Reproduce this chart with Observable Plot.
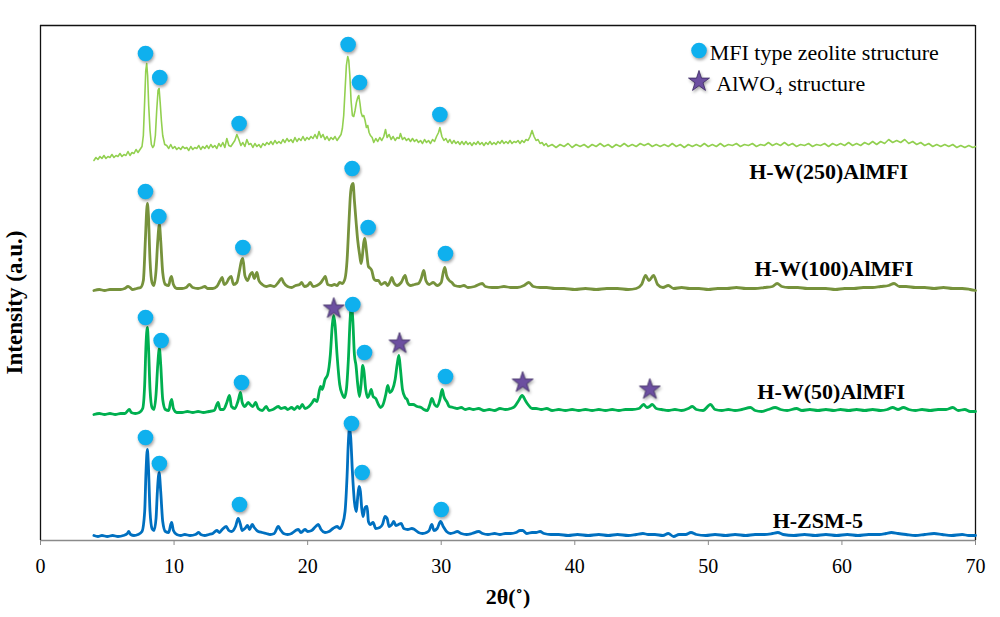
<!DOCTYPE html>
<html>
<head>
<meta charset="utf-8">
<script src="https://cdn.jsdelivr.net/npm/d3@7"></script>
<script src="https://cdn.jsdelivr.net/npm/@observablehq/plot@0.6"></script>
<style>
  html, body { margin: 0; padding: 0; background: #fff; }
  #chart { width: 1000px; height: 617px; }
  #chart svg, #chart svg text { font-family: "Liberation Serif", "Times New Roman", serif !important; }
</style>
</head>
<body>
<div id="chart"></div>
<script>
// ---- Data (2θ in degrees, intensity in a.u. above each pattern's own baseline) ----
const seriesNames = ["H-ZSM-5", "H-W(50)AlMFI", "H-W(100)AlMFI", "H-W(250)AlMFI"];
const seriesColors = ["#0070c0", "#00b050", "#76923c", "#92d050"];
const seriesOffsets = [4, 126, 250, 380];
const xTicks = [0, 10, 20, 30, 40, 50, 60, 70];

const zsm5 = [[4.0,1],[4.3,0],[4.6,1],[5.0,0],[5.4,1],[5.8,0],[6.2,1],[6.5,3],[6.6,5],[6.75,2],[7.0,1],[7.3,2],[7.6,5],[7.8,25],[7.9,65],[8.0,87],[8.08,70],[8.2,25],[8.35,8],[8.5,6],[8.65,18],[8.75,45],[8.88,64],[9.0,45],[9.15,15],[9.35,5],[9.6,4],[9.75,12],[9.82,14],[9.95,6],[10.2,2],[10.5,1],[10.8,2],[11.2,1],[11.6,2],[11.85,4],[12.0,2],[12.3,1],[12.6,2],[12.9,3],[13.2,6],[13.4,4],[13.6,7],[13.9,10],[14.1,6],[14.3,5],[14.6,10],[14.8,18],[14.95,13],[15.1,6],[15.3,8],[15.5,11],[15.65,7],[15.85,12],[16.0,9],[16.3,5],[16.6,4],[16.9,3],[17.2,2],[17.5,3],[17.8,10],[17.95,7],[18.2,3],[18.5,2],[18.8,3],[19.1,6],[19.3,7],[19.5,4],[19.8,7],[20.0,5],[20.3,6],[20.6,10],[20.8,12],[21.0,7],[21.3,4],[21.6,5],[21.9,8],[22.2,10],[22.4,8],[22.6,12],[22.8,25],[22.95,60],[23.05,95],[23.13,108],[23.22,100],[23.35,65],[23.5,35],[23.65,25],[23.75,40],[23.85,50],[23.95,45],[24.05,28],[24.15,20],[24.3,29],[24.45,30],[24.55,15],[24.7,12],[24.9,14],[25.1,8],[25.4,9],[25.6,12],[25.8,20],[25.95,18],[26.1,10],[26.3,12],[26.45,15],[26.6,11],[26.8,12],[27.0,13],[27.2,8],[27.5,7],[27.8,8],[28.0,7],[28.3,4],[28.6,3],[28.9,4],[29.1,6],[29.3,12],[29.45,6],[29.7,8],[29.95,15],[30.15,10],[30.4,5],[30.7,3],[31.0,4],[31.2,5],[31.5,3],[31.9,2],[32.3,3],[32.8,5],[33.1,3],[33.5,2],[34.0,3],[34.4,2],[34.8,3],[35.2,3],[35.6,4],[35.9,6],[36.1,6],[36.4,3],[36.8,4],[37.1,4],[37.4,5],[37.7,3],[38.2,2],[38.8,2],[39.5,1],[40.2,2],[41.0,1],[41.8,2],[42.5,1],[43.2,2],[44.0,1],[44.6,2],[45.1,3],[45.5,2],[46.0,2],[46.6,1],[47.0,3],[47.4,0],[47.8,2],[48.3,2],[48.7,4],[49.1,2],[49.8,1],[50.5,2],[51.3,1],[52.0,2],[52.8,1],[53.5,2],[54.2,2],[54.8,3],[55.2,4],[55.6,2],[56.4,1],[57.2,2],[58.0,1],[58.8,2],[59.6,1],[60.4,2],[61.2,1],[62.0,2],[62.8,2],[63.3,3],[63.7,4],[64.2,3],[64.8,2],[65.5,1],[66.2,2],[66.9,3],[67.5,2],[68.2,1],[69.0,2],[69.5,1],[70,1]];

const w50 = [[4.0,0],[4.4,1],[4.8,0],[5.2,1],[5.6,0],[6.0,1],[6.3,1],[6.55,4],[6.65,5],[6.8,2],[7.1,1],[7.4,2],[7.65,6],[7.8,30],[7.9,70],[8.0,87],[8.08,70],[8.2,25],[8.35,7],[8.5,5],[8.65,20],[8.78,50],[8.9,66],[9.0,50],[9.15,15],[9.35,5],[9.6,4],[9.75,13],[9.82,15],[9.95,6],[10.2,2],[10.6,2],[11.0,3],[11.4,2],[11.8,3],[12.2,2],[12.6,3],[13.0,4],[13.3,12],[13.45,5],[13.7,5],[13.95,12],[14.15,19],[14.3,8],[14.55,6],[14.8,14],[14.97,22],[15.1,12],[15.3,8],[15.55,12],[15.7,10],[15.9,8],[16.1,12],[16.3,6],[16.6,4],[16.9,8],[17.1,4],[17.4,5],[17.8,8],[18.0,6],[18.3,7],[18.5,5],[18.8,7],[19.0,5],[19.25,8],[19.4,6],[19.6,10],[19.8,6],[20.1,8],[20.35,12],[20.5,15],[20.7,13],[20.96,28],[21.1,25],[21.3,35],[21.5,40],[21.7,60],[21.85,90],[21.95,99],[22.05,90],[22.2,60],[22.4,30],[22.6,20],[22.75,17],[22.9,25],[23.05,55],[23.18,95],[23.28,109],[23.38,95],[23.5,60],[23.62,49],[23.75,30],[23.88,18],[24.0,30],[24.12,49],[24.2,45],[24.35,25],[24.5,17],[24.62,20],[24.76,25],[24.9,18],[25.1,16],[25.3,10],[25.45,7],[25.65,10],[25.85,20],[26.0,29],[26.15,22],[26.35,25],[26.55,35],[26.7,50],[26.83,59],[26.95,45],[27.1,25],[27.3,17],[27.45,15],[27.6,10],[27.9,10],[28.2,8],[28.5,7],[28.7,5],[28.95,4],[29.15,10],[29.3,16],[29.5,10],[29.7,8],[29.9,15],[30.07,25],[30.2,18],[30.45,12],[30.6,8],[30.9,7],[31.2,6],[31.5,7],[31.8,5],[32.1,6],[32.4,5],[32.8,6],[33.2,4],[33.6,5],[34.0,4],[34.4,6],[34.8,5],[35.2,6],[35.5,8],[35.8,14],[36.06,19],[36.3,14],[36.5,10],[36.8,6],[37.1,6],[37.5,5],[37.9,6],[38.3,4],[38.8,5],[39.3,4],[39.8,5],[40.3,4],[40.8,5],[41.3,4],[41.8,5],[42.3,4],[42.8,5],[43.3,4],[43.8,5],[44.3,5],[44.8,6],[45.15,10],[45.4,7],[45.6,8],[45.8,10],[46.1,6],[46.5,5],[47.0,4],[47.5,5],[48.0,4],[48.5,6],[48.8,8],[49.1,5],[49.6,4],[50.16,10],[50.5,5],[51.0,4],[51.5,5],[52.0,4],[52.5,5],[53.15,7],[53.5,4],[54.0,3],[54.5,5],[55.0,7],[55.4,5],[55.9,4],[56.6,6],[57.0,4],[57.6,5],[58.2,4],[58.8,5],[59.4,4],[59.9,5],[60.5,4],[61.1,5],[61.7,4],[62.3,5],[62.9,4],[63.4,5],[63.8,7],[64.2,5],[64.6,7],[65.0,5],[65.5,4],[66.0,5],[66.6,4],[67.2,5],[67.8,5],[68.3,7],[68.7,4],[69.2,5],[69.6,3],[70,3]];

const w100 = [[4.0,0],[4.4,1],[4.8,0],[5.2,1],[5.6,1],[6.0,1],[6.3,2],[6.55,4],[6.7,3],[6.9,1],[7.2,2],[7.5,3],[7.7,10],[7.85,50],[7.95,80],[8.0,87],[8.08,75],[8.2,30],[8.35,8],[8.5,5],[8.65,20],[8.78,50],[8.9,66],[9.0,50],[9.15,18],[9.35,6],[9.6,5],[9.72,12],[9.8,14],[9.95,6],[10.2,2],[10.6,2],[10.9,3],[11.15,6],[11.4,3],[11.8,2],[12.1,3],[12.3,4],[12.5,2],[12.9,2],[13.2,4],[13.45,10],[13.6,13],[13.75,6],[13.95,8],[14.1,12],[14.27,14],[14.45,6],[14.7,8],[14.9,20],[15.05,30],[15.15,32],[15.3,15],[15.5,10],[15.7,16],[15.85,18],[16.0,12],[16.2,18],[16.35,10],[16.6,6],[16.9,4],[17.2,5],[17.5,4],[17.8,8],[18.05,12],[18.2,8],[18.5,4],[18.8,3],[19.1,5],[19.4,6],[19.55,8],[19.75,4],[20.0,5],[20.2,8],[20.4,4],[20.7,5],[21.0,8],[21.2,12],[21.32,14],[21.5,6],[21.8,5],[22.0,6],[22.2,5],[22.4,8],[22.6,7],[22.8,12],[22.95,30],[23.1,70],[23.2,95],[23.3,105],[23.4,107],[23.5,90],[23.62,70],[23.75,50],[23.9,35],[24.0,27],[24.1,35],[24.2,48],[24.28,52],[24.4,40],[24.55,24],[24.7,22],[24.8,20],[24.95,12],[25.1,10],[25.3,10],[25.5,6],[25.8,8],[26.0,5],[26.2,10],[26.3,13],[26.45,8],[26.7,5],[27.0,8],[27.3,15],[27.45,8],[27.7,5],[28.0,6],[28.3,7],[28.5,12],[28.7,20],[28.85,10],[29.1,6],[29.4,8],[29.7,5],[30.0,8],[30.15,18],[30.27,23],[30.4,15],[30.6,10],[30.8,8],[31.0,5],[31.4,4],[31.7,5],[32.0,3],[32.5,4],[33.07,7],[33.3,4],[33.8,3],[34.2,3],[34.7,4],[35.2,3],[35.7,3],[36.2,5],[36.56,8],[36.9,4],[37.4,3],[37.9,3],[38.5,2],[39.2,2],[40,1],[40.8,2],[41.6,1],[42.4,2],[43.2,2],[44.0,1],[44.6,2],[45.0,6],[45.3,15],[45.55,10],[45.9,15],[46.2,6],[46.6,3],[47.0,5],[47.4,2],[48.0,3],[48.6,2],[49.3,2],[50.0,1],[50.7,2],[51.4,2],[52.1,3],[52.8,2],[53.5,2],[54.2,3],[54.8,4],[55.15,7],[55.5,4],[56.0,3],[56.7,3],[57.4,2],[58.1,2],[58.8,2],[59.5,1],[60.2,2],[60.9,2],[61.6,3],[62.3,3],[62.9,4],[63.5,5],[63.9,7],[64.3,4],[64.8,4],[65.5,3],[66.2,3],[66.9,2],[67.6,3],[68.3,2],[69.0,2],[69.6,1],[70,0]];

const w250 = [[4.0,0],[4.15,3],[4.3,1],[4.45,4],[4.6,2],[4.75,5],[4.9,2],[5.05,4],[5.2,3],[5.35,6],[5.5,3],[5.65,5],[5.8,4],[5.95,7],[6.1,4],[6.25,6],[6.4,5],[6.55,9],[6.7,5],[6.85,8],[7.0,7],[7.15,11],[7.3,8],[7.45,11],[7.6,14],[7.7,25],[7.8,60],[7.88,90],[7.95,97],[8.02,85],[8.1,55],[8.2,30],[8.3,16],[8.4,13],[8.5,15],[8.6,25],[8.7,50],[8.8,70],[8.88,72],[8.96,58],[9.05,40],[9.15,25],[9.3,16],[9.45,15],[9.6,12],[9.75,16],[9.9,12],[10.05,14],[10.2,11],[10.35,13],[10.5,11],[10.65,14],[10.8,12],[10.95,13],[11.1,10],[11.25,14],[11.4,11],[11.55,13],[11.7,12],[11.85,15],[12.0,11],[12.15,14],[12.3,12],[12.45,15],[12.6,12],[12.75,16],[12.9,13],[13.05,15],[13.2,12],[13.35,17],[13.5,14],[13.65,18],[13.8,13],[13.95,22],[14.1,15],[14.25,14],[14.4,17],[14.55,20],[14.7,26],[14.85,21],[15.0,15],[15.15,18],[15.3,14],[15.45,21],[15.6,16],[15.75,17],[15.9,13],[16.05,17],[16.2,14],[16.35,16],[16.5,13],[16.65,17],[16.8,15],[16.95,18],[17.1,16],[17.25,19],[17.4,16],[17.55,20],[17.7,17],[17.85,19],[18.0,17],[18.15,21],[18.3,18],[18.45,22],[18.6,19],[18.75,21],[18.9,18],[19.05,23],[19.2,19],[19.35,22],[19.5,20],[19.65,24],[19.8,20],[19.95,23],[20.1,21],[20.25,24],[20.4,22],[20.55,26],[20.7,22],[20.85,29],[21.0,23],[21.15,26],[21.3,21],[21.45,24],[21.6,20],[21.75,23],[21.9,21],[22.05,24],[22.2,20],[22.35,23],[22.5,26],[22.6,32],[22.7,45],[22.8,70],[22.9,95],[23.0,104],[23.08,100],[23.16,85],[23.25,60],[23.35,45],[23.45,44],[23.55,50],[23.65,58],[23.75,63],[23.83,65],[23.92,57],[24.0,48],[24.1,44],[24.2,45],[24.3,40],[24.4,33],[24.5,35],[24.6,28],[24.7,25],[24.83,23],[24.95,18],[25.1,22],[25.25,19],[25.4,23],[25.55,20],[25.7,24],[25.83,31],[25.95,23],[26.1,26],[26.25,21],[26.4,24],[26.55,20],[26.7,23],[26.85,22],[26.95,27],[27.1,21],[27.25,23],[27.4,20],[27.55,22],[27.7,19],[27.85,22],[28.0,19],[28.15,21],[28.3,18],[28.45,20],[28.6,17],[28.75,21],[28.9,18],[29.05,20],[29.2,17],[29.35,21],[29.5,19],[29.65,24],[29.8,28],[29.9,33],[30.05,24],[30.2,20],[30.35,22],[30.5,18],[30.65,21],[30.8,17],[30.95,20],[31.1,17],[31.25,19],[31.4,16],[31.55,19],[31.7,16],[31.85,19],[32.0,16],[32.15,18],[32.3,15],[32.45,18],[32.6,16],[32.75,19],[32.9,16],[33.05,18],[33.2,15],[33.35,18],[33.5,16],[33.65,19],[33.8,16],[33.95,18],[34.1,16],[34.25,19],[34.4,17],[34.55,20],[34.7,17],[34.85,19],[35.0,17],[35.15,20],[35.3,17],[35.45,19],[35.6,18],[35.75,20],[35.9,17],[36.05,20],[36.2,18],[36.35,21],[36.5,20],[36.65,24],[36.8,30],[36.95,24],[37.1,20],[37.25,21],[37.4,17],[37.55,18],[37.7,15],[37.85,17],[38.0,14],[38.3,16],[38.6,13],[38.9,16],[39.2,14],[39.5,17],[39.8,13],[40.1,16],[40.4,14],[40.7,16],[41.0,13],[41.3,16],[41.6,14],[41.9,17],[42.2,14],[42.5,16],[42.8,13],[43.1,16],[43.4,14],[43.7,17],[44.0,14],[44.3,16],[44.6,14],[44.9,17],[45.2,15],[45.5,17],[45.8,14],[46.1,16],[46.4,14],[46.7,16],[47.0,14],[47.3,17],[47.6,14],[47.9,16],[48.2,13],[48.5,16],[48.8,14],[49.1,16],[49.4,14],[49.7,17],[50.0,14],[50.3,16],[50.6,14],[50.9,17],[51.2,14],[51.5,16],[51.8,15],[52.1,17],[52.4,14],[52.7,16],[53.0,15],[53.3,17],[53.6,14],[53.9,16],[54.2,15],[54.5,18],[54.8,15],[55.1,17],[55.4,15],[55.7,18],[56.0,15],[56.3,17],[56.6,14],[56.9,16],[57.2,15],[57.5,17],[57.8,14],[58.1,16],[58.4,15],[58.7,17],[59.0,14],[59.3,17],[59.6,15],[59.9,17],[60.2,15],[60.5,18],[60.8,15],[61.1,17],[61.4,15],[61.7,18],[62.0,16],[62.3,19],[62.6,16],[62.9,19],[63.2,17],[63.5,21],[63.8,18],[64.1,20],[64.4,18],[64.7,21],[65.0,17],[65.3,19],[65.6,16],[65.9,18],[66.2,15],[66.5,17],[66.8,14],[67.1,16],[67.4,14],[67.7,16],[68.0,14],[68.3,16],[68.6,13],[68.9,15],[69.2,13],[69.5,15],[69.8,13],[70,14]];

// Peak markers: [2θ, level above the pattern's baseline]
const zsm5Mfi = [[7.86,99],[8.9,73],[14.9,32],[23.28,113],[24.08,64],[30.0,27]];
const w50Mfi  = [[7.86,97],[9.03,74],[15.05,32],[23.38,110],[24.26,62],[30.32,38]];
const w100Mfi = [[7.86,99],[8.86,74],[15.15,43],[23.33,122],[24.53,63],[30.32,37]];
const w250Mfi = [[7.86,107],[8.93,83],[14.87,37],[23.03,116],[23.88,78],[29.9,46]];
const w50AlWO4 = [[21.96,106],[26.88,71],[36.1,32],[45.62,25]];

// Series labels: [2θ, level]
const labelPositions = [[58.2,20],[59.2,149],[59.4,272],[59.0,369]];

const legendLabels = ["MFI type zeolite structure", "AlWO\u2084 structure"];

// ---- Build tables ----
const patterns = [zsm5, w50, w100, w250];
const rows = patterns.flatMap((p, i) => p.map(([x, h]) => ({series: seriesNames[i], x, y: h + seriesOffsets[i]})));
const mfiRows = [zsm5Mfi, w50Mfi, w100Mfi, w250Mfi].flatMap((m, i) => m.map(([x, h]) => ({x, y: h + seriesOffsets[i]})));
const starRows = w50AlWO4.map(([x, h]) => ({x, y: h + seriesOffsets[1]}));
const labelRows = labelPositions.map(([x, y], i) => ({x, y, text: seriesNames[i]}));

const font = "Liberation Serif";

const lineMarks = seriesNames.map((name, i) =>
  Plot.line(rows.filter(d => d.series === name), {
    x: "x", y: "y",
    stroke: seriesColors[i],
    strokeWidth: i === 3 ? 1.6 : 2.8,
    curve: i === 3 ? "linear" : "monotone-x",
    strokeLinejoin: "round"
  })
);

const chart = Plot.plot({
  width: 1000,
  height: 617,
  marginLeft: 40,
  marginRight: 25,
  marginTop: 25,
  marginBottom: 77,
  style: {fontFamily: font, fontSize: "20px", background: "#fff", color: "#000"},
  x: {domain: [0, 70], axis: null},
  y: {domain: [0, 515], axis: null},
  marks: [
    Plot.ruleY([0], {stroke: "#8a8a8a", strokeWidth: 1.3}),
    Plot.ruleY([515], {stroke: "#111", strokeWidth: 1.3}),
    Plot.ruleX([0], {stroke: "#111", strokeWidth: 1.3}),
    Plot.ruleX([70], {stroke: "#111", strokeWidth: 1.3}),
    Plot.axisX({ticks: xTicks, tickSize: 5, tickPadding: 13, stroke: "#8a8a8a", fill: "#000", fontSize: 20, fontFamily: font, label: null, tickFormat: d => String(d)}),
    ...lineMarks,
    Plot.dot(mfiRows, {x: "x", y: "y", r: 7.8, fill: "#0fb0ee", stroke: "none", symbol: "circle"}),
    Plot.dot(starRows, {x: "x", y: "y", r: 6.6, fill: "#6c4fa0", stroke: "#3a2760", strokeWidth: 0.8, symbol: "star"}),
    Plot.text(labelRows, {x: "x", y: "y", text: "text", fontSize: 22, fontWeight: "bold", fontFamily: font, fill: "#000", textAnchor: "middle", lineAnchor: "middle"}),
    // legend
    Plot.dot([legendLabels[0]], {x: () => 49.3, y: () => 490, r: 7.8, fill: "#0fb0ee", symbol: "circle"}),
    Plot.dot([legendLabels[1]], {x: () => 49.3, y: () => 459, r: 6.6, fill: "#6c4fa0", stroke: "#3a2760", strokeWidth: 0.8, symbol: "star"}),
    Plot.text([legendLabels[0]], {x: () => 50.1, y: () => 488, text: d => d, fontSize: 22, fontFamily: font, textAnchor: "start", lineAnchor: "middle", fill: "#000"}),
    Plot.text([legendLabels[1]], {x: () => 50.6, y: () => 457, text: d => d, fontSize: 22, fontFamily: font, textAnchor: "start", lineAnchor: "middle", fill: "#000"}),
    // axis titles
    Plot.text(["2θ(˚)"], {frameAnchor: "bottom", dy: 63, text: d => d, fontSize: 22, fontWeight: "bold", fontFamily: font, fill: "#000"}),
    Plot.text(["Intensity (a.u.)"], {x: () => -1.95, y: () => 238, rotate: -90, text: d => d, fontSize: 23, fontWeight: "bold", fontFamily: font, fill: "#000", textAnchor: "middle", lineAnchor: "middle"})
  ]
});

document.getElementById("chart").appendChild(chart);
d3.select(chart).selectAll('g[aria-label="dot"]').style("filter", "drop-shadow(1px 2px 1.5px rgba(0,0,0,0.35))");
</script>
</body>
</html>
